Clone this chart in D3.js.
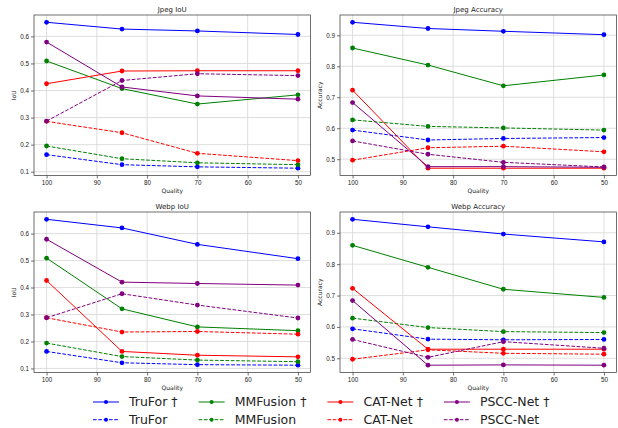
<!DOCTYPE html>
<html>
<head>
<meta charset="utf-8">
<script src="https://cdn.jsdelivr.net/npm/d3@7"></script>
<style>
  body { margin: 0; background: #fff; }
  svg { font-family: "DejaVu Sans", sans-serif; }
</style>
</head>
<body>
<div id="chart"></div>
<script>
// Data
const qualities = [100, 85, 70, 50];
const xTicks = [100, 90, 80, 70, 60, 50];
const iouTicks = [0.1, 0.2, 0.3, 0.4, 0.5, 0.6];
const accTicks = [0.5, 0.6, 0.7, 0.8, 0.9];

const methods = ["TruFor †", "TruFor", "MMFusion †", "MMFusion", "CAT-Net †", "CAT-Net", "PSCC-Net †", "PSCC-Net"];
const colors = ["blue", "blue", "green", "green", "red", "red", "purple", "purple"];
const dashed = [false, true, false, true, false, true, false, true];

const jpegIoU = [
  [0.652, 0.627, 0.620, 0.607],
  [0.163, 0.126, 0.118, 0.113],
  [0.509, 0.407, 0.350, 0.384],
  [0.195, 0.148, 0.133, 0.126],
  [0.425, 0.472, 0.473, 0.473],
  [0.286, 0.244, 0.168, 0.141],
  [0.579, 0.413, 0.380, 0.368],
  [0.287, 0.437, 0.462, 0.455]
];
const jpegAcc = [
  [0.942, 0.922, 0.913, 0.902],
  [0.594, 0.562, 0.567, 0.570],
  [0.859, 0.804, 0.737, 0.772],
  [0.627, 0.606, 0.601, 0.594],
  [0.723, 0.471, 0.471, 0.471],
  [0.497, 0.537, 0.542, 0.524],
  [0.683, 0.476, 0.476, 0.474],
  [0.559, 0.516, 0.490, 0.475]
];
const webpIoU = [
  [0.653, 0.621, 0.560, 0.507],
  [0.163, 0.121, 0.114, 0.112],
  [0.509, 0.321, 0.254, 0.240],
  [0.194, 0.144, 0.131, 0.125],
  [0.426, 0.163, 0.149, 0.143],
  [0.288, 0.235, 0.237, 0.227],
  [0.579, 0.420, 0.415, 0.409],
  [0.288, 0.377, 0.335, 0.287]
];
const webpAcc = [
  [0.943, 0.919, 0.896, 0.871],
  [0.594, 0.561, 0.559, 0.560],
  [0.860, 0.790, 0.720, 0.694],
  [0.628, 0.598, 0.585, 0.582],
  [0.723, 0.529, 0.529, 0.529],
  [0.497, 0.527, 0.516, 0.513],
  [0.684, 0.478, 0.479, 0.478],
  [0.560, 0.503, 0.553, 0.532]
];

const panels = [
  { title: "Jpeg IoU", ylabel: "IoU", values: jpegIoU, ticks: iouTicks, x: 34, y: 15 },
  { title: "Jpeg Accuracy", ylabel: "Accuracy", values: jpegAcc, ticks: accTicks, x: 340, y: 15 },
  { title: "Webp IoU", ylabel: "IoU", values: webpIoU, ticks: iouTicks, x: 34, y: 212 },
  { title: "Webp Accuracy", ylabel: "Accuracy", values: webpAcc, ticks: accTicks, x: 340, y: 212 }
];

// Dimensions
const width = 618;
const height = 428;
const pw = 276.5;
const ph = 160.5;

const svg = d3.select("#chart")
  .append("svg")
  .attr("width", width)
  .attr("height", height);

const xScale = d3.scaleLinear()
  .domain([102.5, 47.5])
  .range([0, pw]);

panels.forEach((p) => {
  const all = p.values.flat();
  const [lo, hi] = d3.extent(all);
  const pad = (hi - lo) * 0.05;
  const yScale = d3.scaleLinear()
    .domain([lo - pad, hi + pad])
    .range([ph, 0]);

  const g = svg.append("g")
    .attr("transform", `translate(${p.x}, ${p.y})`);

  // grid
  g.append("g")
    .selectAll("line")
    .data(xTicks)
    .join("line")
    .attr("x1", (d) => xScale(d))
    .attr("x2", (d) => xScale(d))
    .attr("y1", 0)
    .attr("y2", ph)
    .attr("stroke", "#d6d6d6")
    .attr("stroke-width", 0.8);
  g.append("g")
    .selectAll("line")
    .data(p.ticks)
    .join("line")
    .attr("x1", 0)
    .attr("x2", pw)
    .attr("y1", (d) => yScale(d))
    .attr("y2", (d) => yScale(d))
    .attr("stroke", "#d6d6d6")
    .attr("stroke-width", 0.8);

  // axes
  const xAxis = d3.axisBottom(xScale)
    .tickValues(xTicks)
    .tickFormat(d3.format("d"))
    .tickSizeOuter(0)
    .tickSize(3)
    .tickPadding(2);
  g.append("g")
    .attr("transform", `translate(0, ${ph})`)
    .call(xAxis)
    .call((a) => a.select(".domain").remove())
    .call((a) => a.selectAll("text").style("font-size", "6.3px").attr("fill", "#222"))
    .call((a) => a.selectAll("line").attr("stroke", "#333").attr("stroke-width", 0.7));

  const yAxis = d3.axisLeft(yScale)
    .tickValues(p.ticks)
    .tickFormat(d3.format(".1f"))
    .tickSizeOuter(0)
    .tickSize(3)
    .tickPadding(2);
  g.append("g")
    .call(yAxis)
    .call((a) => a.select(".domain").remove())
    .call((a) => a.selectAll("text").style("font-size", "6.3px").attr("fill", "#222"))
    .call((a) => a.selectAll("line").attr("stroke", "#333").attr("stroke-width", 0.7));

  // lines and markers
  const line = d3.line()
    .x((d, i) => xScale(qualities[i]))
    .y((d) => yScale(d));

  p.values.forEach((vals, k) => {
    g.append("path")
      .datum(vals)
      .attr("d", line)
      .attr("fill", "none")
      .attr("stroke", colors[k])
      .attr("stroke-width", 1)
      .attr("stroke-dasharray", dashed[k] ? "3.7,1.6" : null);
    g.append("g")
      .selectAll("circle")
      .data(vals)
      .join("circle")
      .attr("cx", (d, i) => xScale(qualities[i]))
      .attr("cy", (d) => yScale(d))
      .attr("r", 2.4)
      .attr("fill", colors[k]);
  });

  // frame
  g.append("rect")
    .attr("width", pw)
    .attr("height", ph)
    .attr("fill", "none")
    .attr("stroke", "#333")
    .attr("stroke-width", 0.7);

  // labels
  g.append("text")
    .attr("x", pw / 2)
    .attr("y", -3)
    .attr("text-anchor", "middle")
    .style("font-size", "7px")
    .attr("fill", "#222")
    .text(p.title);
  g.append("text")
    .attr("x", pw / 2)
    .attr("y", ph + 17)
    .attr("text-anchor", "middle")
    .style("font-size", "6px")
    .attr("fill", "#222")
    .text("Quality");
  g.append("text")
    .attr("transform", `translate(-18, ${ph / 2}) rotate(-90)`)
    .attr("text-anchor", "middle")
    .style("font-size", "6px")
    .attr("fill", "#222")
    .text(p.ylabel);
});

// Legend (4 columns, filled column-wise)
const legend = svg.append("g").attr("transform", "translate(93, 402)");
let colX = 0;
for (let c = 0; c < 4; c++) {
  const col = legend.append("g").attr("transform", `translate(${colX}, 0)`);
  let maxW = 0;
  for (let r = 0; r < 2; r++) {
    const k = c * 2 + r;
    const row = col.append("g").attr("transform", `translate(0, ${r * 17.7})`);
    row.append("line")
      .attr("x1", 0)
      .attr("x2", 26)
      .attr("stroke", colors[k])
      .attr("stroke-width", 1)
      .attr("stroke-dasharray", dashed[k] ? "3.7,1.6" : null);
    row.append("circle")
      .attr("cx", 13)
      .attr("r", 2)
      .attr("fill", colors[k]);
    const t = row.append("text")
      .attr("x", 36)
      .attr("dy", "0.35em")
      .style("font-size", "12.5px")
      .attr("fill", "#222")
      .text(methods[k]);
    maxW = Math.max(maxW, t.node().getComputedTextLength());
  }
  colX += 36 + maxW + 21;
}
</script>
</body>
</html>
